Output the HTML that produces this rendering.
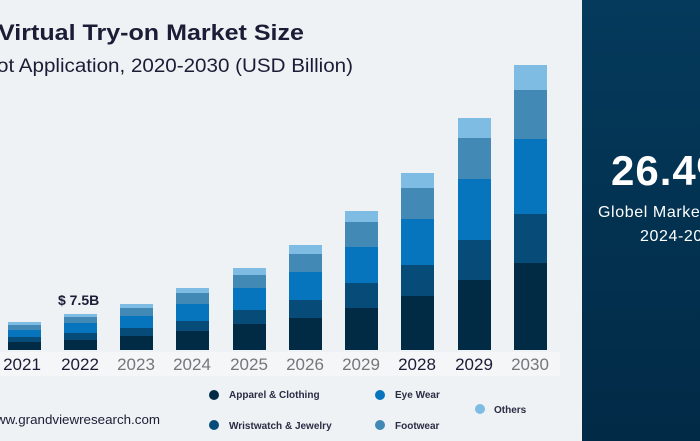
<!DOCTYPE html>
<html><head><style>
html,body{margin:0;padding:0;width:700px;height:441px;overflow:hidden;background:#eff2f4}
svg{display:block}
text{font-family:"Liberation Sans",sans-serif}
</style></head><body>
<svg width="700" height="441" viewBox="0 0 700 441" xmlns="http://www.w3.org/2000/svg">
<defs><linearGradient id="g" x1="0" y1="0" x2="0" y2="1"><stop offset="0" stop-color="#053a5c"/><stop offset="1" stop-color="#012a46"/></linearGradient></defs>
<rect width="700" height="441" fill="#eff2f4"/>
<rect x="0" y="352" width="560" height="24" fill="#f5f6f7"/>
<text x="-2" y="40" font-size="22" font-weight="bold" fill="#1b1d36" textLength="306" lengthAdjust="spacingAndGlyphs">Virtual Try-on Market Size</text>
<text x="-3" y="72" font-size="19" fill="#1b1d36" textLength="356" lengthAdjust="spacingAndGlyphs">ot Application, 2020-2030  (USD Billion)</text>
<g id="bars"></g>
<text x="58" y="305" font-size="14" font-weight="bold" fill="#1b1d36">$ 7.5B</text>
<g font-size="17" text-anchor="middle">
<text x="22" y="370" fill="#1b1d36">2021</text>
<text x="80" y="370" fill="#1b1d36">2022</text>
<text x="136" y="370" fill="#77767a">2023</text>
<text x="192" y="370" fill="#77767a">2024</text>
<text x="249" y="370" fill="#77767a">2025</text>
<text x="305" y="370" fill="#77767a">2026</text>
<text x="361" y="370" fill="#77767a">2029</text>
<text x="417" y="370" fill="#1b1d36">2028</text>
<text x="474" y="370" fill="#1b1d36">2029</text>
<text x="530" y="370" fill="#77767a">2030</text>
</g>
<text x="-4" y="424" font-size="13" fill="#1b1d36" textLength="164" lengthAdjust="spacingAndGlyphs">ww.grandviewresearch.com</text>
<g font-size="10" font-weight="bold" fill="#2a2c44">
<circle cx="214" cy="395" r="5" fill="#012a45"/><text x="229" y="398">Apparel &amp; Clothing</text>
<circle cx="214" cy="425" r="5" fill="#074c78"/><text x="229" y="429">Wristwatch &amp; Jewelry</text>
<circle cx="380" cy="395" r="5" fill="#0775bd"/><text x="395" y="398">Eye Wear</text>
<circle cx="380" cy="425" r="5" fill="#4289b6"/><text x="395" y="429">Footwear</text>
<circle cx="480" cy="409" r="5" fill="#7fbce4"/><text x="494" y="413">Others</text>
</g>
<rect x="582" y="0" width="118" height="441" fill="url(#g)"/>
<text x="611" y="185" font-size="42" font-weight="bold" fill="#fff" letter-spacing="1">26.4%</text>
<text x="598" y="217" font-size="16" fill="#fff" letter-spacing="0.6">Globel Market CAGR</text>
<text x="640" y="241" font-size="16" fill="#fff" letter-spacing="0.6">2024-2030</text>
</svg>
<script>
var d=[[8,322,325,330,337,342],[64,314,317,323,333,340],[120,304,308,316,328,336],[176,288,293,304,321,331],[233,268,275,288,310,324],[289,245,254,272,300,318],[345,211,222,247,283,308],[401,173,188,219,265,296],[458,118,138,179,240,280],[514,65,90,139,214,263]];
var c=["#7fbce4","#4289b6","#0775bd","#074c78","#012a45"];
var s="";d.forEach(function(b){for(var i=0;i<5;i++){var y0=b[i+1],y1=(i<4?b[i+2]:350);s+='<rect x="'+b[0]+'" y="'+y0+'" width="33" height="'+(y1-y0)+'" fill="'+c[i]+'"/>';}});
document.getElementById("bars").innerHTML=s;
</script>
</body></html>
